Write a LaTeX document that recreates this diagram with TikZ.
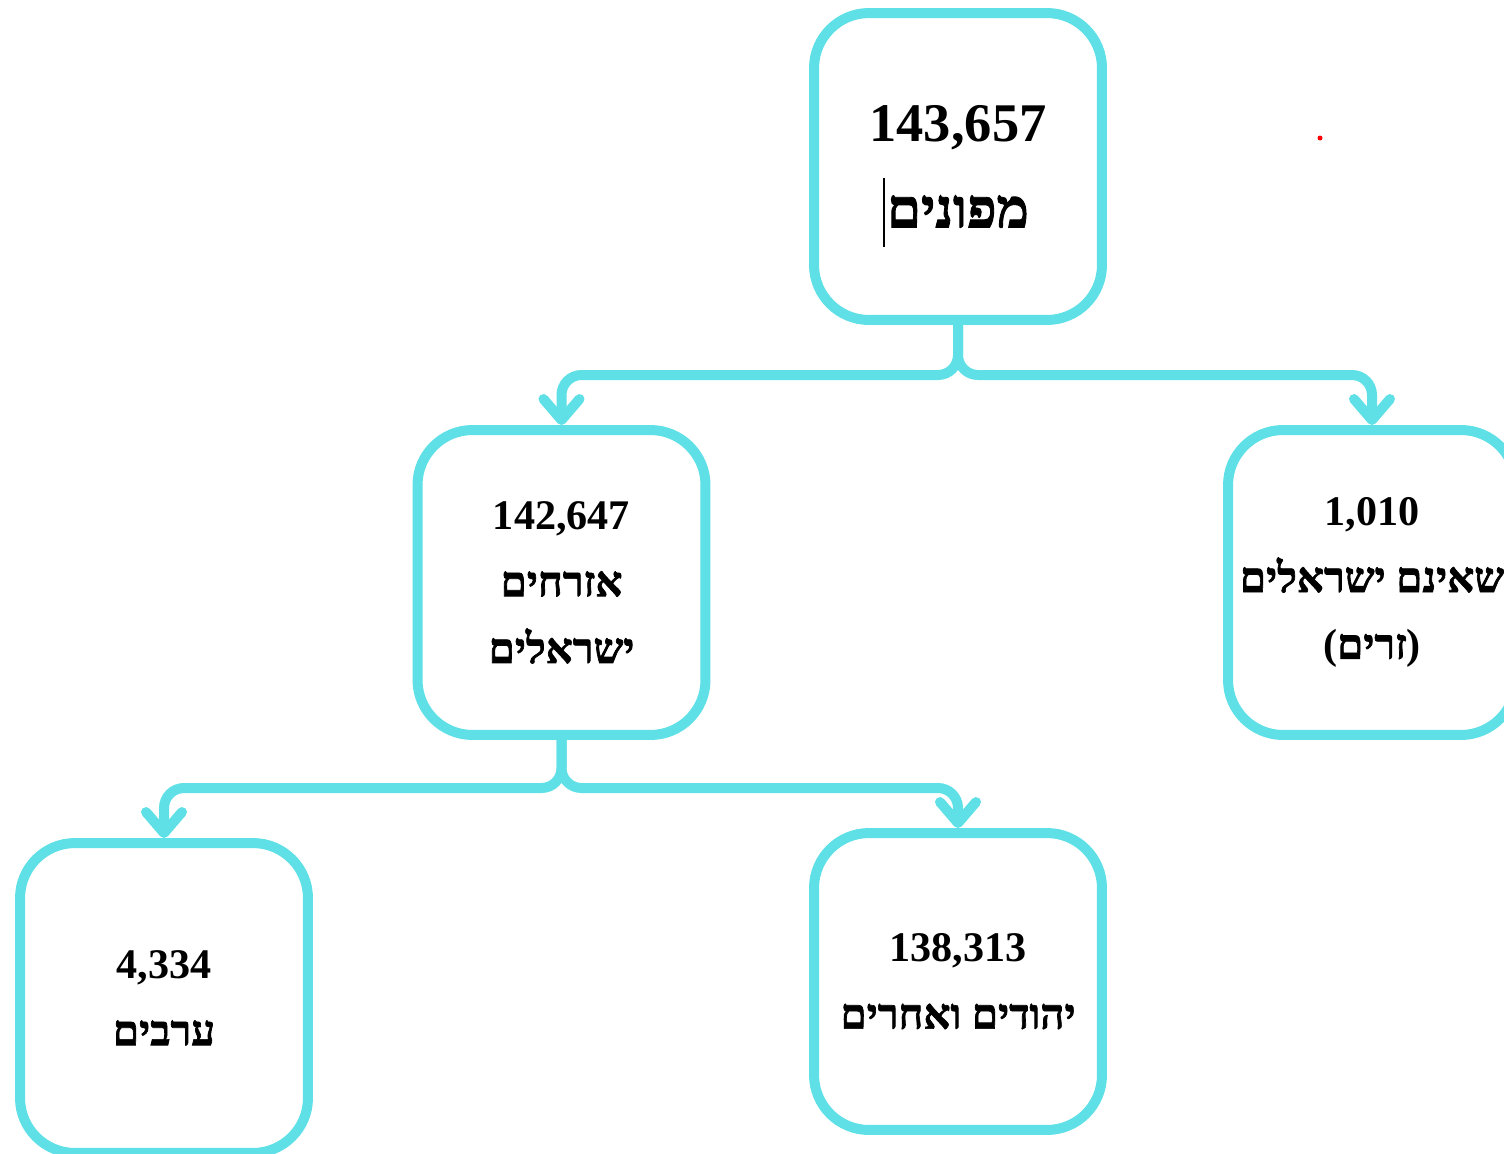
\documentclass[tikz,border=0pt]{standalone}
\usepackage{fontspec}
\setmainfont{Liberation Serif}
\newfontfamily\hebfont[Script=Hebrew, FakeBold=1.6]{Liberation Serif Bold}
\TeXXeTstate=1
\usetikzlibrary{arrows.meta}
\definecolor{turq}{RGB}{94,224,230}
\newcommand{\heb}[1]{{\hebfont\mdseries\beginR #1\endR}}
\begin{document}
\begin{tikzpicture}[x=0.02cm, y=-0.02cm,
  box/.style={draw=turq, line width=0.2cm, rounded corners=1.1cm, minimum width=5.76cm, minimum height=6.1cm, align=center, inner sep=0pt, font=\bfseries\fontsize{24}{38}\selectfont},
  conn/.style={draw=turq, line width=0.2cm, rounded corners=0.4cm, line cap=round, -{Straight Barb[length=0.42cm, width=0.72cm, round]}}]
\useasboundingbox (0,0) rectangle (1504,1153);
\node[box, minimum height=6.14cm, font=\bfseries\fontsize{31}{49}\selectfont] (top) at (958,166.5) {143,657\\ \heb{מפונים}};
\node[box] (il) at (561.5,582.5) {142,647\\ \heb{אזרחים}\\ \heb{ישראלים}};
\node[box] (fr) at (1372,582.5) {1,010\\ \heb{שאינם ישראלים}\\ (\heb{זרים})};
\node[box, minimum height=6.2cm] (ar) at (164,998) {4,334\\ \heb{ערבים}};
\node[box, minimum height=5.94cm] (jw) at (958,981.5) {138,313\\ \heb{יהודים ואחרים}};
\coordinate (j1) at (958,375);
\coordinate (j2) at (561.5,788);
\draw[conn] (top.south) -- (j1) -| (il.north);
\draw[conn] (top.south) -- (j1) -| (fr.north);
\draw[conn] (il.south) -- (j2) -| (ar.north);
\draw[conn] (il.south) -- (j2) -| (jw.north);
\draw[black, line width=0.03cm] (884,178) -- (884,247);
\fill[red] (1320,138) circle (2.5);
\end{tikzpicture}
\end{document}
